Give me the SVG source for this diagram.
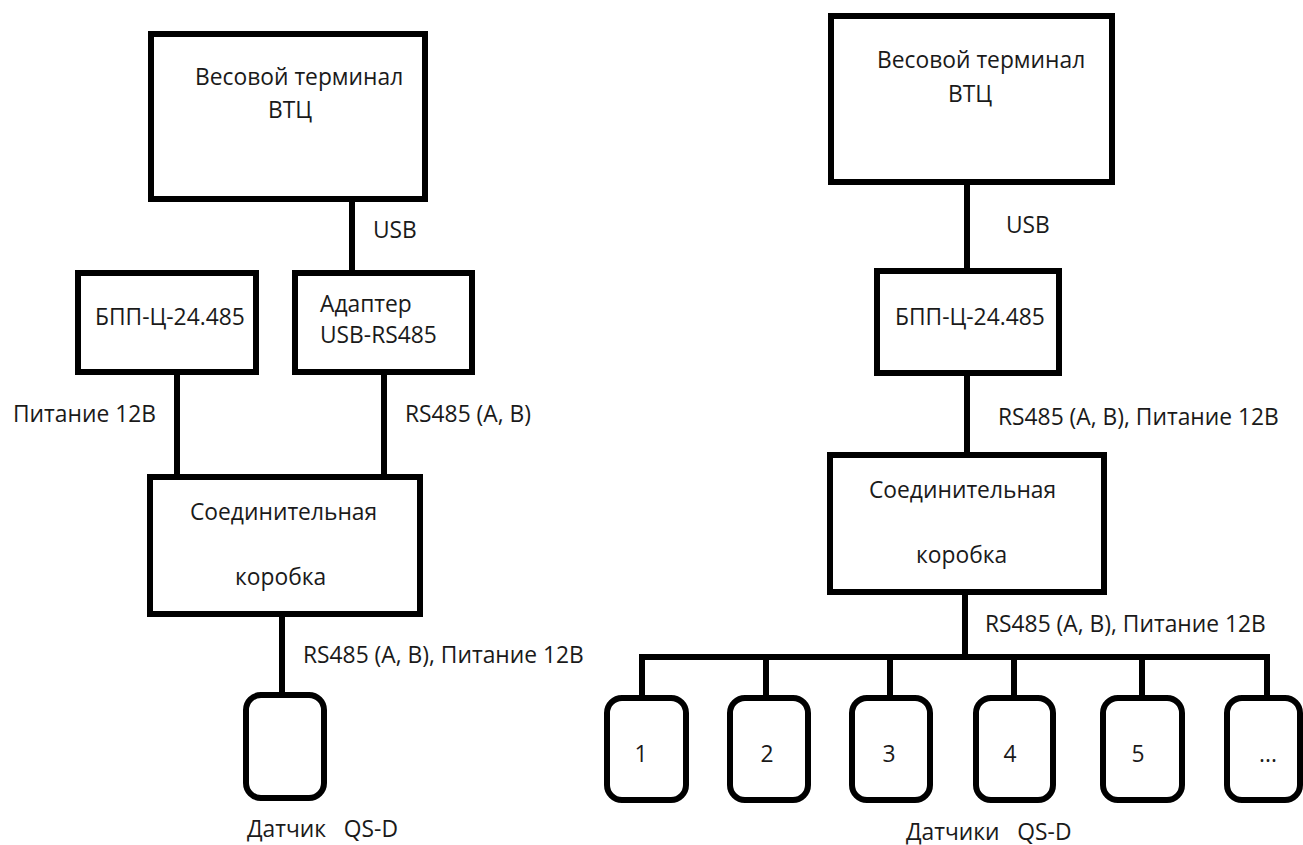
<svg xmlns="http://www.w3.org/2000/svg" width="1303" height="845" viewBox="0 0 1303 845">
<style>
.box{fill:#fff;stroke:#000;stroke-width:6}
.sen{fill:#fff;stroke:#000;stroke-width:6}
.ln{fill:none;stroke:#000;stroke-width:6}
text{font-family:"Open Sans","Noto Sans",sans-serif;font-size:22.8px;fill:#1a1a1a;white-space:pre}
</style>
<rect width="1303" height="845" fill="#fff"/>
<g id="connectors">
<line class="ln" x1="352" y1="202" x2="352" y2="270"/>
<line class="ln" x1="177" y1="375" x2="177" y2="477"/>
<line class="ln" x1="384" y1="375" x2="384" y2="477"/>
<line class="ln" x1="282" y1="617" x2="282" y2="692"/>
<line class="ln" x1="967" y1="185" x2="967" y2="268"/>
<line class="ln" x1="967" y1="376" x2="967" y2="452"/>
<line class="ln" x1="965" y1="595" x2="965" y2="657"/>
<polyline class="ln" points="642,695 642,657 1267,657 1267,695"/>
<line class="ln" x1="766" y1="657" x2="766" y2="695"/>
<line class="ln" x1="890" y1="657" x2="890" y2="695"/>
<line class="ln" x1="1014" y1="657" x2="1014" y2="695"/>
<line class="ln" x1="1142" y1="657" x2="1142" y2="695"/>
<text x="373" y="238">USB</text>
<text x="13" y="422">Питание 12В</text>
<text x="405" y="422">RS485 (A, B)</text>
<text x="303" y="663">RS485 (A, B), Питание 12В</text>
<text x="1006" y="233">USB</text>
<text x="998" y="425">RS485 (A, B), Питание 12В</text>
<text x="985" y="632">RS485 (A, B), Питание 12В</text>
</g>
<g id="l-terminal">
<rect class="box" x="151" y="34" width="274" height="165"/>
<text x="195" y="85">Весовой терминал</text>
<text x="268" y="118">ВТЦ</text>
</g>
<g id="l-bpp">
<rect class="box" x="78" y="273" width="178" height="99"/>
<text x="95" y="325">БПП-Ц-24.485</text>
</g>
<g id="l-adapter">
<rect class="box" x="295" y="273" width="177" height="99"/>
<text x="320" y="312">Адаптер</text>
<text x="320" y="343">USB-RS485</text>
</g>
<g id="l-box">
<rect class="box" x="150" y="477" width="270" height="137"/>
<text x="190" y="520">Соединительная</text>
<text x="235" y="585">коробка</text>
</g>
<g id="l-sensor">
<rect class="sen" x="246" y="695" width="78" height="103" rx="15"/>
<text x="247" y="837">Датчик   QS-D</text>
</g>
<g id="r-terminal">
<rect class="box" x="831" y="16" width="281" height="166"/>
<text x="877" y="68">Весовой терминал</text>
<text x="948" y="102">ВТЦ</text>
</g>
<g id="r-bpp">
<rect class="box" x="877" y="271" width="182" height="102"/>
<text x="895" y="325">БПП-Ц-24.485</text>
</g>
<g id="r-box">
<rect class="box" x="830" y="455" width="274" height="137"/>
<text x="869" y="498">Соединительная</text>
<text x="916" y="563">коробка</text>
</g>
<g id="s1"><rect class="sen" x="607" y="698" width="79" height="102" rx="15"/><text x="641" y="762" text-anchor="middle">1</text></g>
<g id="s2"><rect class="sen" x="730" y="698" width="78" height="102" rx="15"/><text x="767" y="762" text-anchor="middle">2</text></g>
<g id="s3"><rect class="sen" x="852" y="698" width="78" height="102" rx="15"/><text x="889" y="762" text-anchor="middle">3</text></g>
<g id="s4"><rect class="sen" x="976" y="698" width="77" height="102" rx="15"/><text x="1010" y="762" text-anchor="middle">4</text></g>
<g id="s5"><rect class="sen" x="1103" y="698" width="79" height="102" rx="15"/><text x="1138" y="762" text-anchor="middle">5</text></g>
<g id="s6"><rect class="sen" x="1227" y="698" width="73" height="102" rx="15"/><text x="1268" y="762" text-anchor="middle">...</text></g>
<text x="906" y="840">Датчики   QS-D</text>
</svg>
